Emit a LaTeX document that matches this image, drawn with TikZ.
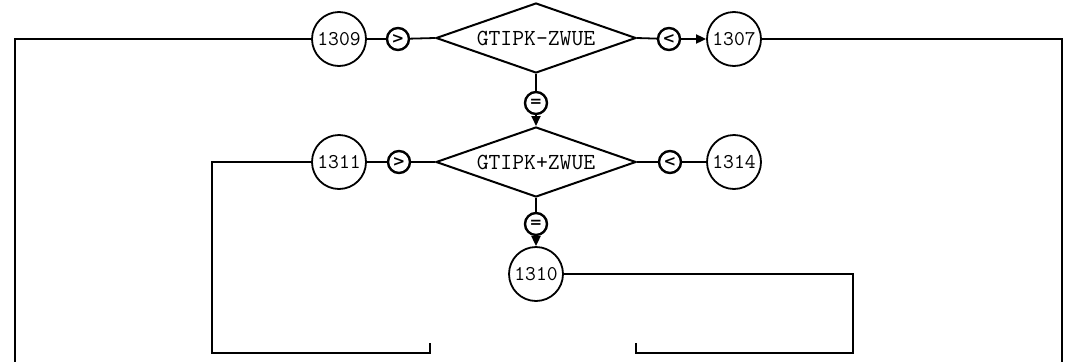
\documentclass[tikz,border=0pt]{standalone}
\usepackage{fontspec}
\newfontfamily\symfont{DejaVu Sans}
\usetikzlibrary{shapes.geometric,arrows.meta}
\begin{document}
\begin{tikzpicture}[x=1pt,y=-1pt,
  line width=1.8pt,
  conn/.style={draw=black,line width=1.8pt},
  arr/.style={conn,-{Triangle[length=10pt,width=9pt]}},
  decision/.style={diamond,draw,line width=2pt,minimum width=200pt,minimum height=70pt,aspect=2.85,inner sep=1pt,font=\ttfamily\fontsize{23}{23}\selectfont},
  label/.style={circle,draw,line width=1.8pt,minimum size=54pt,inner sep=0pt,font=\ttfamily\fontsize{21}{21}\selectfont},
  cond/.style={circle,draw,line width=2.4pt,minimum size=22pt,inner sep=0pt,font=\symfont\bfseries\fontsize{15}{15}\selectfont}
]
\useasboundingbox (0,0) rectangle (1066,362);

% row 1
\node[decision] (d1) at (536,38) {GTIPK-ZWUE};
\node[label] (c1309) at (339,39) {1309};
\node[cond] (g1) at (398,39) {>};
\node[cond] (l1) at (669,39) {<};
\node[label] (c1307) at (734,39) {1307};
\node[cond] (e1) at (536,103) {=};

% row 2
\node[decision] (d2) at (536,162) {GTIPK+ZWUE};
\node[label] (c1311) at (339,162) {1311};
\node[cond] (g2) at (399,162) {>};
\node[cond] (l2) at (670,162) {<};
\node[label] (c1314) at (734,162) {1314};
\node[cond] (e2) at (536,224) {=};
\node[label] (c1310) at (536,274) {1310};

% free ends
\coordinate (tl) at (15,39);
\coordinate (bl) at (15,362);
\coordinate (tr) at (1062,39);
\coordinate (br) at (1062,362);
\coordinate (a1) at (212,162);
\coordinate (a2) at (212,353);
\coordinate (a3) at (430,353);
\coordinate (a4) at (430,343);
\coordinate (b1) at (853,274);
\coordinate (b2) at (853,353);
\coordinate (b3) at (636,353);
\coordinate (b4) at (636,343);

% connectors row 1
\draw[conn] (d1.west) -- (g1);
\draw[conn] (g1) -- (c1309);
\draw[conn] (d1.east) -- (l1);
\draw[arr] (l1) -- (c1307);
\draw[conn] (d1.south) -- (e1);
\draw[arr] (e1) -- (d2.north);
\draw[conn] (c1309.west) -- (tl) -- (bl);
\draw[conn] (c1307.east) -- (tr) -- (br);

% connectors row 2
\draw[conn] (d2.west) -- (g2);
\draw[conn] (g2) -- (c1311);
\draw[conn] (d2.east) -- (l2);
\draw[conn] (l2) -- (c1314);
\draw[conn] (d2.south) -- (e2);
\draw[arr] (e2) -- (c1310);
\draw[conn] (c1311.west) -- (a1) -- (a2) -- (a3) -- (a4);
\draw[conn] (c1310.east) -- (b1) -- (b2) -- (b3) -- (b4);
\end{tikzpicture}
\end{document}
